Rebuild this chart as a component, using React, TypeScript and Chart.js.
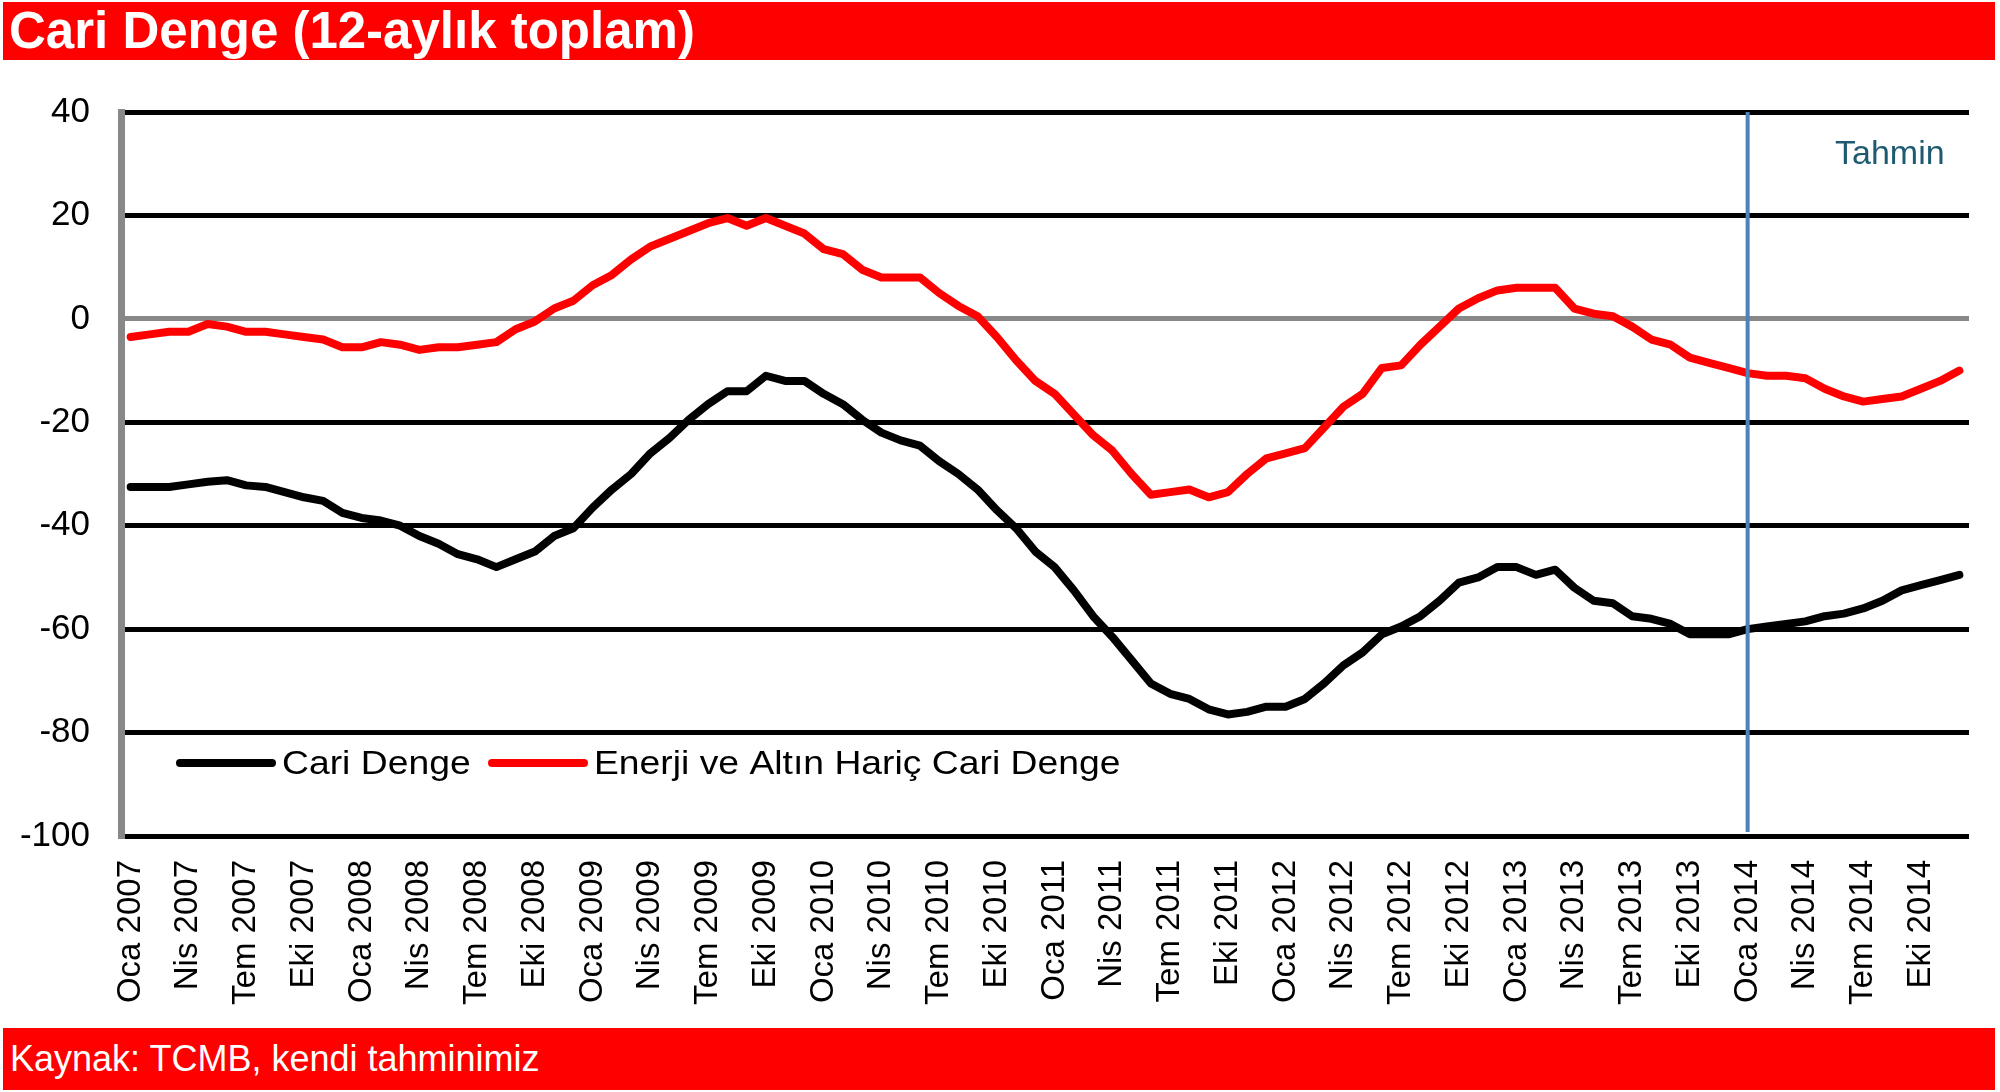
import React, { useEffect, useRef } from "react";
import { Chart, registerables } from "chart.js";

Chart.register(...registerables);

const monthNames = ["Oca", "Şub", "Mar", "Nis", "May", "Haz", "Tem", "Ağu", "Eyl", "Eki", "Kas", "Ara"];
const years = [2007, 2008, 2009, 2010, 2011, 2012, 2013, 2014];
const labels = years.flatMap((y) => monthNames.map((m) => `${m} ${y}`));

const cariDenge = [
  -32.5, -32.5, -32.5, -32, -31.5, -31.2, -32.2, -32.5, -33.5, -34.5, -35.2, -37.5,
  -38.5, -39, -40, -42, -43.5, -45.5, -46.5, -48, -46.5, -45, -42, -40.5,
  -36.5, -33, -30, -26, -23, -19.5, -16.5, -14, -14, -11, -12, -12,
  -14.5, -16.5, -19.5, -22, -23.5, -24.5, -27.5, -30, -33, -37, -40.5, -45,
  -48, -52.5, -57.5, -61.5, -66, -70.5, -72.5, -73.5, -75.5, -76.5, -76, -75,
  -75, -73.5, -70.5, -67, -64.5, -61, -59.5, -57.5, -54.5, -51, -50, -48,
  -48, -49.5, -48.5, -52, -54.5, -55, -57.5, -58, -59, -61, -61, -61,
  -60, -59.5, -59, -58.5, -57.5, -57, -56, -54.5, -52.5, -51.5, -50.5, -49.5,
];

const enerjiAltinHaric = [
  -3.5, -3, -2.5, -2.5, -1, -1.5, -2.5, -2.5, -3, -3.5, -4, -5.5,
  -5.5, -4.5, -5, -6, -5.5, -5.5, -5, -4.5, -2, -0.5, 2, 3.5,
  6.5, 8.5, 11.5, 14, 15.5, 17, 18.5, 19.5, 18, 19.5, 18, 16.5,
  13.5, 12.5, 9.5, 8, 8, 8, 5, 2.5, 0.5, -3.5, -8, -12,
  -14.5, -18.5, -22.5, -25.5, -30, -34, -33.5, -33, -34.5, -33.5, -30, -27,
  -26, -25, -21, -17, -14.5, -9.5, -9, -5, -1.5, 2, 4, 5.5,
  6, 6, 6, 2, 1, 0.5, -1.5, -4, -5, -7.5, -8.5, -9.5,
  -10.5, -11, -11, -11.5, -13.5, -15, -16, -15.5, -15, -13.5, -12, -10,
];

const seriesNames = ["Cari Denge", "Enerji ve Altın Hariç Cari Denge"];
const forecastStart = "Oca 2014";
const forecastLabel = "Tahmin";
const titleText = "Cari Denge (12-aylık toplam)";
const sourceText = "Kaynak: TCMB, kendi tahminimiz";

const FONT = "'Liberation Sans', Arial, Helvetica, sans-serif";

const overlayPlugin = {
  id: "overlay",
  afterDatasetsDraw(chart: any) {
    const ctx = chart.ctx;
    const xs = chart.scales.x;
    const area = chart.chartArea;
    const idx = labels.indexOf(forecastStart);
    const lx = xs.getPixelForValue(idx);
    ctx.save();
    ctx.strokeStyle = "#4F81BD";
    ctx.lineWidth = 4;
    ctx.beginPath();
    ctx.moveTo(lx, area.top);
    ctx.lineTo(lx, area.bottom - 4);
    ctx.stroke();

    ctx.fillStyle = "#1F5B70";
    ctx.font = `34px ${FONT}`;
    ctx.textAlign = "left";
    ctx.textBaseline = "middle";
    ctx.fillText(forecastLabel, 1835, 155);

    // legend
    const items = [
      { color: "#000000", x: 180, text: seriesNames[0] },
      { color: "#FF0000", x: 492, text: seriesNames[1] },
    ];
    const ly = 763;
    ctx.lineCap = "round";
    ctx.lineWidth = 8;
    items.forEach((it) => {
      ctx.strokeStyle = it.color;
      ctx.beginPath();
      ctx.moveTo(it.x, ly);
      ctx.lineTo(it.x + 92, ly);
      ctx.stroke();
      ctx.save();
      ctx.translate(it.x + 102, ly + 2);
      ctx.scale(1.13, 1);
      ctx.fillStyle = "#000000";
      ctx.font = `33px ${FONT}`;
      ctx.textBaseline = "middle";
      ctx.textAlign = "left";
      ctx.fillText(it.text, 0, 0);
      ctx.restore();
    });
    ctx.restore();
  },
};

export default function App() {
  const canvasRef = useRef<HTMLCanvasElement | null>(null);

  useEffect(() => {
    document.body.style.margin = "0";
    const canvas = canvasRef.current;
    if (!canvas) return;
    const chart = new Chart(canvas, {
      type: "line",
      data: {
        labels,
        datasets: [
          {
            label: seriesNames[0],
            data: cariDenge,
            borderColor: "#000000",
            borderWidth: 8,
            pointRadius: 0,
            tension: 0,
            borderJoinStyle: "round",
            borderCapStyle: "round",
            fill: false,
          },
          {
            label: seriesNames[1],
            data: enerjiAltinHaric,
            borderColor: "#FF0000",
            borderWidth: 8,
            pointRadius: 0,
            tension: 0,
            borderJoinStyle: "round",
            borderCapStyle: "round",
            fill: false,
          },
        ],
      },
      options: {
        responsive: false,
        animation: false,
        devicePixelRatio: 1,
        layout: { padding: { top: 112, right: 31, bottom: 0, left: 0 } },
        plugins: {
          legend: { display: false },
          tooltip: { enabled: false },
          title: { display: false },
        },
        scales: {
          x: {
            type: "category",
            offset: true,
            grid: { display: false, drawTicks: false },
            border: { display: false },
            ticks: {
              autoSkip: false,
              maxRotation: 90,
              minRotation: 90,
              padding: 24,
              color: "#000000",
              font: { family: FONT, size: 33 },
              callback: (_v: any, i: number) => (i % 3 === 0 ? labels[i] : ""),
            },
            afterFit: (scale: any) => {
              scale.height = 1092 - 836;
              scale.paddingLeft = 0;
              scale.paddingRight = 0;
            },
          },
          y: {
            min: -100,
            max: 40,
            ticks: {
              stepSize: 20,
              padding: 31,
              color: "#000000",
              font: { family: FONT, size: 35 },
            },
            grid: {
              drawTicks: false,
              lineWidth: 5,
              color: (c: any) => (c.tick && c.tick.value === 0 ? "#888888" : "#000000"),
            },
            border: { display: true, color: "#888888", width: 7 },
            afterFit: (scale: any) => {
              scale.width = 121;
            },
          },
        },
      },
      plugins: [overlayPlugin],
    });
    return () => chart.destroy();
  }, []);

  return (
    <div style={{ position: "relative", width: 2000, height: 1092, background: "#ffffff", overflow: "hidden" }}>
      <canvas ref={canvasRef} width={2000} height={1092} style={{ position: "absolute", left: 0, top: 0 }} />
      <div
        style={{
          position: "absolute",
          left: 3,
          top: 2,
          width: 1992,
          height: 58,
          background: "#FF0000",
          color: "#ffffff",
          fontFamily: FONT,
          fontWeight: "bold",
          fontSize: 51,
          lineHeight: "58px",
          paddingLeft: 6,
          boxSizing: "border-box",
          whiteSpace: "nowrap",
        }}
      >
        {titleText}
      </div>
      <div
        style={{
          position: "absolute",
          left: 3,
          top: 1028,
          width: 1992,
          height: 62,
          background: "#FF0000",
          color: "#ffffff",
          fontFamily: FONT,
          fontSize: 36,
          lineHeight: "62px",
          paddingLeft: 7,
          boxSizing: "border-box",
          whiteSpace: "nowrap",
        }}
      >
        {sourceText}
      </div>
    </div>
  );
}
